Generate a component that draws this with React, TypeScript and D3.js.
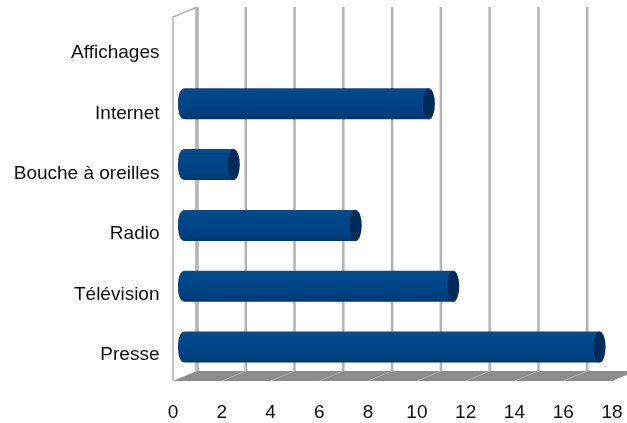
import React from "react";
import * as d3 from "d3";

const categories = ["Affichages", "Internet", "Bouche à oreilles", "Radio", "Télévision", "Presse"];
const values = [0, 10, 2, 7, 11, 17];
const ticks = [0, 2, 4, 6, 8, 10, 12, 14, 16, 18];

const W = 627, H = 423;
const front = d3.scaleLinear().domain([0, 18]).range([173, 612]);
const back = d3.scaleLinear().domain([0, 18]).range([197, 636]);
const mid = d3.scaleLinear().domain([0, 18]).range([185, 624]);
const band = d3.scaleBand<string>().domain(categories).range([13, 378]);
const labelBand = d3.scaleBand<string>().domain(categories).range([14.5, 377]);
const barH = 31;
const floorFront = 381, floorBack = 371, top = 7, topFront = 17;

export default function App() {
  return (
    <svg width={W} height={H} style={{ position: "absolute", left: 0, top: 0, background: "#fff" }}>
      <defs>
        <linearGradient id="bar" x1="0" x2="0" y1="0" y2="1">
          <stop offset="0" stopColor="#0b4a86" />
          <stop offset="0.3" stopColor="#00468a" />
          <stop offset="0.75" stopColor="#004282" />
          <stop offset="1" stopColor="#053768" />
        </linearGradient>
        <filter id="soft" x="-5%" y="-5%" width="110%" height="110%">
          <feGaussianBlur stdDeviation="0.6" />
        </filter>
        <filter id="softText" x="-5%" y="-5%" width="110%" height="110%">
          <feGaussianBlur stdDeviation="0.3" />
        </filter>
      </defs>
      <g filter="url(#soft)">
        <path
          d={`M${front(0)},${floorFront} L${back(0)},${floorBack} L${back(18)},${floorBack} L${front(18)},${floorFront} Z`}
          fill="#8c8c8c"
        />
        {ticks.slice(1, -1).map((t) => (
          <line key={`f${t}`} x1={front(t)} x2={back(t)} y1={floorFront} y2={floorBack} stroke="#b3b3b3" strokeWidth={1} />
        ))}
        <path
          d={`M${front(0)},${floorFront} V${topFront} L${back(0)},${top}`}
          fill="none"
          stroke="#b3b3b3"
          strokeWidth={1.5}
        />
        {ticks.slice(0, -1).map((t) => (
          <line
            key={`g${t}`}
            x1={back(t)}
            x2={back(t)}
            y1={top}
            y2={floorBack}
            stroke="#b3b3b3"
            strokeWidth={t === 0 ? 3.5 : 2.5}
          />
        ))}
        {categories.map((c, i) => {
          const v = values[i];
          if (!v) return null;
          const cy = band(c)! + band.bandwidth() / 2 - 0.5;
          const x1 = mid(v);
          const x0 = mid(0);
          const y0 = cy - barH / 2;
          const y1 = cy + barH / 2;
          return (
            <g key={c}>
              <path
                d={`M${x0},${y0} H${x1} V${y1} H${x0} C${x0 - 5},${y1} ${x0 - 7},${y1 - 6} ${x0 - 7},${cy} C${x0 - 7},${y0 + 6} ${x0 - 5},${y0} ${x0},${y0} Z`}
                fill="url(#bar)"
              />
              <ellipse cx={x1} cy={cy} rx={6} ry={barH / 2} fill="#022c59" />
            </g>
          );
        })}
      </g>
      <g fontFamily="Liberation Sans" fontSize={19} fill="#111" filter="url(#softText)">
        {categories.map((c) => (
          <text key={c} x={159.5} y={labelBand(c)! + labelBand.bandwidth() / 2 + 13.5} textAnchor="end">
            {c}
          </text>
        ))}
        {ticks.map((t) => (
          <text key={t} x={front(t)} y={417.5} textAnchor="middle">
            {t}
          </text>
        ))}
      </g>
    </svg>
  );
}
